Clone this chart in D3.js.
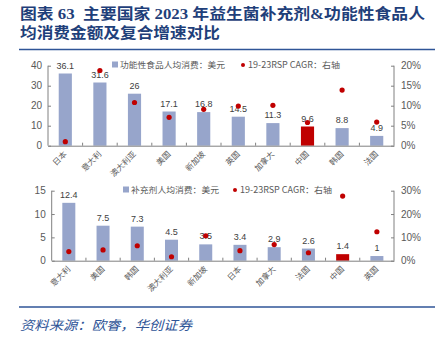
<!DOCTYPE html>
<html><head><meta charset="utf-8">
<script src="https://cdn.jsdelivr.net/npm/d3@7"></script>
<style>body{margin:0;background:#fff}svg{display:block}</style>
</head><body><svg id="c" width="443" height="342"></svg>
<script>
const topCats = ["日本","意大利","澳大利亚","美国","新加坡","英国","加拿大","中国","韩国","法国"];
const topSpend = [36.1,31.6,26,17.1,16.8,14.5,11.3,9.6,8.8,4.9];
const topCagr = [1.0,18.8,10.8,7.1,9.1,9.9,10.1,5.8,13.9,5.9];
const topLeftTicks = [0,10,20,30,40];
const topRightTicks = [0,5,10,15,20];

const botCats = ["意大利","美国","韩国","澳大利亚","新加坡","日本","加拿大","法国","中国","英国"];
const botSpend = [12.4,7.5,7.3,4.5,3.5,3.4,2.9,2.6,1.4,1];
const botCagr = [3.9,4.6,6.4,1.7,10.7,4.3,6.9,3.4,27.7,12.4];
const botLeftTicks = [0,5,10,15];
const botRightTicks = [0,10,20,30];

const svg = d3.select("#c");
const blue = "#1f3f7a", bar = "#97a5cb", red = "#c00000", grey = "#595959";

// title
const t = svg.append("g").attr("font-family","'Liberation Serif','Noto Sans CJK SC',serif").attr("font-weight","bold").attr("fill",blue).attr("font-size",15);
t.append("text").attr("x",20).attr("y",19).attr("textLength",405).attr("lengthAdjust","spacingAndGlyphs").text("图表 63\u00a0\u00a0主要国家 2023 年益生菌补充剂&功能性食品人");
t.append("text").attr("x",20).attr("y",38).attr("textLength",200).attr("lengthAdjust","spacingAndGlyphs").text("均消费金额及复合增速对比");
svg.append("line").attr("x1",19).attr("x2",435).attr("y1",49.5).attr("y2",49.5).attr("stroke","#2f5597").attr("stroke-width",1.5);
svg.append("line").attr("x1",19).attr("x2",435).attr("y1",307).attr("y2",307).attr("stroke","#2f5597").attr("stroke-width",1.5);
svg.append("text").attr("x",20).attr("y",330).attr("font-family","'Noto Sans CJK SC',sans-serif").attr("font-style","italic").attr("font-size",13).attr("fill","#2f5597").attr("textLength",172).attr("lengthAdjust","spacingAndGlyphs").text("资料来源：欧睿，华创证券");

function panel(o){
  const g = svg.append("g").attr("font-family","'Liberation Sans',Arial,sans-serif");
  const x = d3.scaleBand().domain(o.cats).range([o.left,o.right]).paddingInner(0.62).paddingOuter(0.31);
  const xb = d3.scaleBand().domain(o.cats).range([o.left,o.right]);
  const yl = d3.scaleLinear().domain([0,d3.max(o.lt)]).range([o.bottom,o.top]);
  const yr = d3.scaleLinear().domain([0,d3.max(o.rt)]).range([o.bottom,o.top]);
  // bars
  g.selectAll("rect.b").data(o.cats).join("rect")
    .attr("x",d=>x(d)).attr("width",x.bandwidth())
    .attr("y",(d,i)=>yl(o.spend[i])).attr("height",(d,i)=>o.bottom-yl(o.spend[i]))
    .attr("fill",d=>d==="中国"?red:bar);
  // value labels
  g.selectAll("text.v").data(o.cats).join("text")
    .attr("x",d=>x(d)+x.bandwidth()/2).attr("y",(d,i)=>yl(o.spend[i])-5)
    .attr("text-anchor","middle").attr("font-size",9).attr("fill","#404040")
    .text((d,i)=>o.spend[i]);
  // dots
  g.selectAll("circle").data(o.cats).join("circle")
    .attr("cx",d=>x(d)+x.bandwidth()/2).attr("cy",(d,i)=>yr(o.cagr[i])).attr("r",2.6).attr("fill",red);
  // axes
  const axL = g.append("g").attr("transform",`translate(${o.left},0)`)
    .call(d3.axisLeft(yl).tickValues(o.lt).tickSize(-3).tickPadding(6));
  const axR = g.append("g").attr("transform",`translate(${o.right},0)`)
    .call(d3.axisRight(yr).tickValues(o.rt).tickSize(-3).tickPadding(7).tickFormat(d=>d+"%"));
  const axB = g.append("g").attr("transform",`translate(0,${o.bottom})`)
    .call(d3.axisBottom(xb).tickSize(0).tickFormat(""));
  g.selectAll("line.ct").data(o.cats.slice(1)).join("line")
    .attr("x1",d=>xb(d)).attr("x2",d=>xb(d)).attr("y1",o.bottom).attr("y2",o.bottom-3)
    .attr("stroke","#808080");
  [axL,axR,axB].forEach(a=>{
    a.select(".domain").attr("stroke","#808080");
    a.selectAll(".tick line").attr("stroke","#808080");
    a.selectAll(".tick text").attr("fill",grey).attr("font-size",10).attr("font-family","'Liberation Sans',Arial,sans-serif");
  });
  axL.select(".domain").attr("d",`M0,${o.top}V${o.bottom}`);
  axR.select(".domain").attr("d",`M0,${o.top}V${o.bottom}`);
  // category labels
  g.selectAll("text.c").data(o.cats).join("text")
    .attr("transform",d=>`translate(${xb(d)+xb.bandwidth()/2+2},${o.bottom+9}) rotate(-45)`)
    .attr("text-anchor","end").attr("font-family","'Noto Sans CJK SC',sans-serif").attr("font-size",8).attr("fill",grey)
    .text(d=>d);
  // legend
  const lg = g.append("g").attr("font-family","'Noto Sans CJK SC',sans-serif").attr("font-size",8.5).attr("fill",grey);
  lg.append("rect").attr("x",o.lgx).attr("y",o.lgy-3.5).attr("width",6).attr("height",6).attr("fill",bar);
  lg.append("text").attr("x",o.lgx+8).attr("y",o.lgy+3).attr("textLength",o.lgLen).attr("lengthAdjust","spacingAndGlyphs").text(o.lgText);
  lg.append("circle").attr("cx",o.ldx).attr("cy",o.lgy).attr("r",2).attr("fill",red);
  lg.append("text").attr("x",o.ldx+5).attr("y",o.lgy+3).attr("textLength",92).attr("lengthAdjust","spacingAndGlyphs").text("19-23RSP CAGR：右轴");
}

panel({cats:topCats,spend:topSpend,cagr:topCagr,lt:topLeftTicks,rt:topRightTicks,
  left:48,right:394,top:65.7,bottom:145.7,lgx:112,lgy:65,ldx:243,lgLen:105,lgText:"功能性食品人均消费：美元"});
panel({cats:botCats,spend:botSpend,cagr:botCagr,lt:botLeftTicks,rt:botRightTicks,
  left:51.7,right:394,top:190.7,bottom:260.7,lgx:123,lgy:190,ldx:235,lgLen:88,lgText:"补充剂人均消费：美元"});
</script></body></html>
